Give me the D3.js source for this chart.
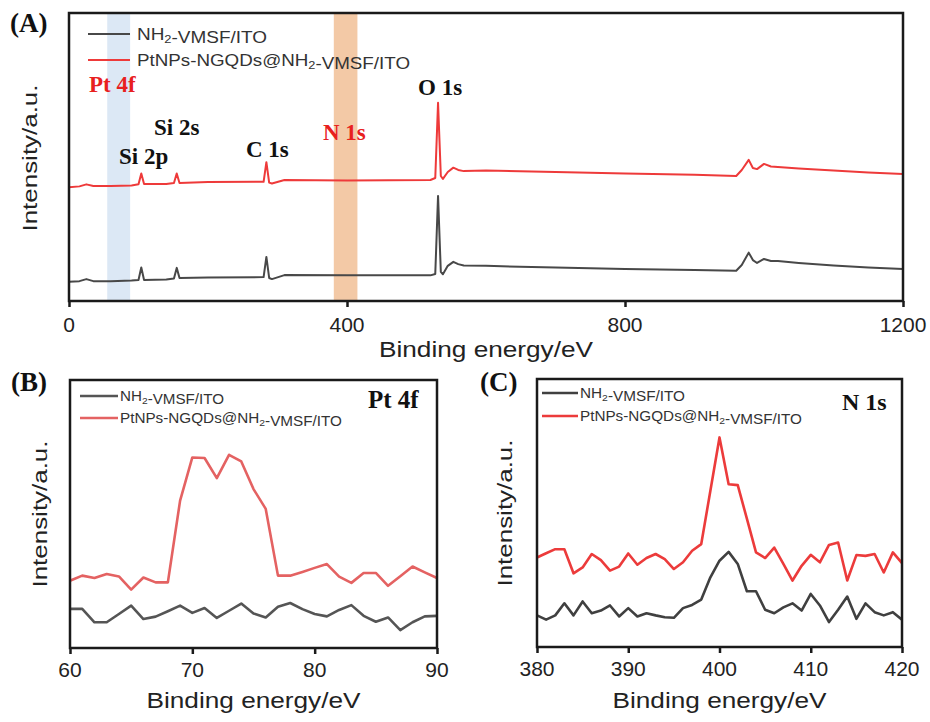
<!DOCTYPE html>
<html lang="en">
<head>
<meta charset="UTF-8">
<title>XPS spectra</title>
<script src="https://d3js.org/d3.v7.min.js"></script>
<style>
  body { margin: 0; background: #fff; }
  svg { display: block; }
  .sans { font-family: "Liberation Sans", Arial, Helvetica, sans-serif; fill: #222; }
  .serif { font-family: "Liberation Serif", "Times New Roman", serif; font-weight: bold; }
</style>
</head>
<body>
<svg id="chart" width="930" height="722"></svg>
<script>
// ---------- data ----------
const seriesBare = "NH2-VMSF/ITO";
const seriesPt = "PtNPs-NGQDs@NH2-VMSF/ITO";

// (A) survey spectrum
const surveyEnergy = [0, 15, 25, 35, 60, 90, 100, 104, 108, 140, 151, 155, 159, 200, 280, 284, 288, 292, 310, 400,
  520, 527, 531, 535, 538, 545, 553, 560, 568, 600, 700, 800, 900, 960, 968, 978, 984, 990, 1000, 1010,
  1020, 1050, 1100, 1150, 1200];
const surveyPt = [39.5, 39.8, 40.5, 39.9, 39.9, 40.1, 40.5, 44.3, 40.6, 40.6, 41.0, 44.3, 41.0, 41.3, 41.4, 48.2, 41.1, 40.8, 42.0, 41.8,
  42.0, 42.7, 68.8, 43.4, 42.4, 44.8, 46.3, 45.5, 45.1, 45.3, 44.8, 44.3, 43.8, 43.4, 45.5, 49.0, 46.2, 45.8, 47.6, 46.7,
  46.5, 46.0, 45.3, 44.6, 44.1];
const surveyBare = [6.7, 6.9, 7.6, 6.9, 6.9, 7.1, 7.3, 11.6, 7.3, 7.5, 7.8, 11.5, 8.0, 8.2, 8.3, 15.3, 8.0, 7.6, 9.0, 8.9,
  8.9, 9.4, 36.5, 10.1, 9.3, 12.2, 13.6, 12.8, 12.3, 12.2, 11.6, 11.1, 10.8, 10.5, 12.5, 16.8, 14.2, 13.2, 14.6, 13.9,
  13.9, 13.2, 12.3, 11.6, 11.1];
const surveyTicks = [0, 400, 800, 1200];
const surveyBands = [[55, 88], [381, 415]];
const peakLabels = ["Pt 4f", "Si 2p", "Si 2s", "C 1s", "N 1s", "O 1s"];

// (B) Pt 4f region
const pt4fEnergy = d3.range(60, 91);
const pt4fBare = [14.6, 14.6, 9.6, 9.6, 12.7, 15.8, 10.8, 11.7, 13.7, 15.8, 13.1, 14.9, 11.2, 13.9, 16.6, 12.9,
  11.4, 15.4, 16.8, 14.5, 12.7, 11.8, 14.2, 16.0, 12.0, 9.8, 11.4, 6.7, 9.6, 11.8, 12.0];
const pt4fPt = [25.1, 27.0, 26.1, 27.6, 26.7, 21.8, 26.3, 24.5, 24.5, 55.0, 71.1, 70.9, 63.4, 72.1, 69.6, 59.3,
  51.9, 27.0, 27.0, 28.4, 29.9, 31.3, 26.6, 24.3, 28.0, 28.0, 23.2, 26.8, 30.4, 28.2, 26.1];
const pt4fTicks = [60, 70, 80, 90];

// (C) N 1s region
const n1sEnergy = d3.range(380, 421);
const n1sBare = [11.8, 10.2, 11.8, 16.3, 11.8, 17.0, 12.6, 13.6, 15.5, 11.4, 14.5, 11.4, 12.6, 11.8, 11.1, 10.9,
  14.5, 15.7, 17.7, 26.0, 32.2, 35.5, 31.0, 20.8, 20.8, 13.9, 12.6, 14.8, 16.3, 13.6, 19.8, 15.5, 9.3, 13.9,
  18.8, 10.5, 16.3, 13.0, 11.8, 13.0, 10.2];
const n1sPt = [33.4, 35.0, 36.5, 36.5, 27.5, 29.7, 34.7, 32.4, 28.5, 30.0, 34.9, 30.7, 33.2, 34.7, 32.8, 29.1,
  31.6, 35.9, 38.4, 58.3, 78.2, 60.7, 60.4, 47.9, 35.3, 33.2, 37.1, 31.0, 24.8, 30.3, 34.4, 31.6, 38.1, 39.0,
  24.8, 34.3, 34.0, 34.7, 27.8, 35.3, 31.3];
const n1sTicks = [380, 390, 400, 410, 420];

// ---------- drawing ----------
const svg = d3.select("#chart");

function addSubscriptText(sel, str) {
  // renders "NH2" with a subscript 2
  const parts = str.split("NH2");
  parts.forEach((p, i) => {
    if (p) sel.append("tspan").text(p);
    if (i < parts.length - 1) {
      sel.append("tspan").text("NH");
      sel.append("tspan").attr("font-size", "0.68em").attr("dy", "0.3em").text("2");
      sel.append("tspan").attr("dy", "-0.3em").text("");
    }
  });
}

function drawPanel(cfg) {
  const g = svg.append("g");
  const x = d3.scaleLinear().domain(cfg.xDomain).range([cfg.left, cfg.right]);
  const y = d3.scaleLinear().domain([0, 100]).range([cfg.bottom, cfg.top]);

  const clipId = "clip-" + cfg.name;
  svg.append("clipPath").attr("id", clipId)
    .append("rect")
    .attr("x", cfg.left).attr("y", cfg.top)
    .attr("width", cfg.right - cfg.left).attr("height", cfg.bottom - cfg.top);

  // highlight bands
  (cfg.bands || []).forEach((b, i) => {
    g.append("rect")
      .attr("x", x(b[0])).attr("y", cfg.top)
      .attr("width", x(b[1]) - x(b[0])).attr("height", cfg.bottom - cfg.top)
      .attr("fill", cfg.bandColors[i]);
  });

  const line = d3.line()
    .x((d, i) => x(cfg.energy[i]))
    .y(d => y(d));

  g.append("path").datum(cfg.bare)
    .attr("clip-path", `url(#${clipId})`)
    .attr("fill", "none").attr("stroke", cfg.bareColor)
    .attr("stroke-width", cfg.lw).attr("stroke-linejoin", "round")
    .attr("d", line);
  g.append("path").datum(cfg.pt)
    .attr("clip-path", `url(#${clipId})`)
    .attr("fill", "none").attr("stroke", cfg.ptColor)
    .attr("stroke-width", cfg.lw).attr("stroke-linejoin", "round")
    .attr("d", line);

  // x axis ticks
  const axis = g.append("g")
    .attr("transform", `translate(0,${cfg.bottom})`)
    .call(d3.axisBottom(x).tickValues(cfg.ticks).tickSize(6).tickFormat(d3.format("d")));
  axis.select(".domain").remove();
  axis.selectAll(".tick line").attr("stroke", "#1a1a1a").attr("stroke-width", 2.5);
  axis.selectAll(".tick text").remove();

  cfg.ticks.forEach(t => {
    g.append("text").attr("class", "sans")
      .attr("x", x(t)).attr("y", cfg.tickBaseline)
      .attr("text-anchor", "middle")
      .attr("font-size", 21)
      .text(t);
  });

  // frame
  g.append("rect")
    .attr("x", cfg.left).attr("y", cfg.top)
    .attr("width", cfg.right - cfg.left).attr("height", cfg.bottom - cfg.top)
    .attr("fill", "none").attr("stroke", "#1a1a1a").attr("stroke-width", 2.5);

  // axis titles
  g.append("text").attr("class", "sans")
    .attr("x", (cfg.left + cfg.right) / 2).attr("y", cfg.titleBaseline)
    .attr("text-anchor", "middle").attr("font-size", 22)
    .attr("textLength", 214).attr("lengthAdjust", "spacingAndGlyphs")
    .text("Binding energy/eV");
  g.append("text").attr("class", "sans")
    .attr("transform", `translate(${cfg.yTitleX},${cfg.yTitleY}) rotate(-90)`)
    .attr("text-anchor", "middle").attr("font-size", 21)
    .attr("textLength", 147).attr("lengthAdjust", "spacingAndGlyphs")
    .text("Intensity/a.u.");

  // legend
  const L = cfg.legend;
  [[seriesBare, cfg.bareColor, L.y0, L.w0], [seriesPt, cfg.ptColor, L.y1, L.w1]].forEach(([name, col, ly, w]) => {
    g.append("line")
      .attr("x1", L.x0).attr("x2", L.x1).attr("y1", ly).attr("y2", ly)
      .attr("stroke", col).attr("stroke-width", cfg.lw);
    const t = g.append("text").attr("class", "sans")
      .attr("x", L.tx).attr("y", ly + L.fs * 0.36)
      .attr("font-size", L.fs)
      .attr("textLength", w).attr("lengthAdjust", "spacingAndGlyphs")
      .style("fill", "#333");
    addSubscriptText(t, name);
  });

  // panel letter
  g.append("text").attr("class", "serif")
    .attr("x", cfg.letterX).attr("y", cfg.letterY)
    .attr("font-size", 27).attr("fill", "#111")
    .text(cfg.letter);

  return { g, x, y };
}

// (A)
const A = drawPanel({
  name: "A", letter: "(A)", letterX: 10, letterY: 32,
  left: 69, right: 903, top: 13, bottom: 301,
  xDomain: [0, 1200], ticks: surveyTicks, tickBaseline: 332, titleBaseline: 357,
  yTitleX: 37, yTitleY: 158,
  energy: surveyEnergy, bare: surveyBare, pt: surveyPt,
  bareColor: "#484848", ptColor: "#ee3a3a", lw: 2,
  bands: surveyBands, bandColors: ["#dce8f5", "#f3c9a6"],
  legend: { x0: 88, x1: 130, tx: 137, y0: 34, y1: 60, fs: 16.5, w0: 130, w1: 273 }
});

// peak annotations for (A)
const peakPlace = {
  "Pt 4f": [89, 92, "#e8201e"],
  "Si 2p": [119, 164, "#111"],
  "Si 2s": [154, 135, "#111"],
  "C 1s": [246, 157, "#111"],
  "N 1s": [323, 140, "#e8201e"],
  "O 1s": [418, 95, "#111"]
};
peakLabels.forEach(lbl => {
  const p = peakPlace[lbl];
  A.g.append("text").attr("class", "serif")
    .attr("x", p[0]).attr("y", p[1])
    .attr("font-size", 23).attr("fill", p[2])
    .text(lbl);
});

// (B)
const B = drawPanel({
  name: "B", letter: "(B)", letterX: 11, letterY: 391,
  left: 70, right: 437, top: 380, bottom: 648,
  xDomain: [60, 90], ticks: pt4fTicks, tickBaseline: 677, titleBaseline: 708,
  yTitleX: 46.5, yTitleY: 514,
  energy: pt4fEnergy, bare: pt4fBare, pt: pt4fPt,
  bareColor: "#555555", ptColor: "#e46262", lw: 2.6,
  legend: { x0: 80, x1: 118, tx: 120, y0: 396, y1: 418, fs: 14, w0: 104, w1: 222 }
});
B.g.append("text").attr("class", "serif")
  .attr("x", 368).attr("y", 408).attr("font-size", 25).attr("fill", "#111")
  .text("Pt 4f");

// (C)
const C = drawPanel({
  name: "C", letter: "(C)", letterX: 480, letterY: 391,
  left: 537, right: 902, top: 379, bottom: 647,
  xDomain: [380, 420], ticks: n1sTicks, tickBaseline: 676, titleBaseline: 708,
  yTitleX: 511.5, yTitleY: 513,
  energy: n1sEnergy, bare: n1sBare, pt: n1sPt,
  bareColor: "#404040", ptColor: "#ec3b3b", lw: 2.6,
  legend: { x0: 542, x1: 578, tx: 580, y0: 393, y1: 416, fs: 14, w0: 105, w1: 222 }
});
C.g.append("text").attr("class", "serif")
  .attr("x", 842).attr("y", 410).attr("font-size", 24).attr("fill", "#111")
  .text("N 1s");
</script>
</body>
</html>
